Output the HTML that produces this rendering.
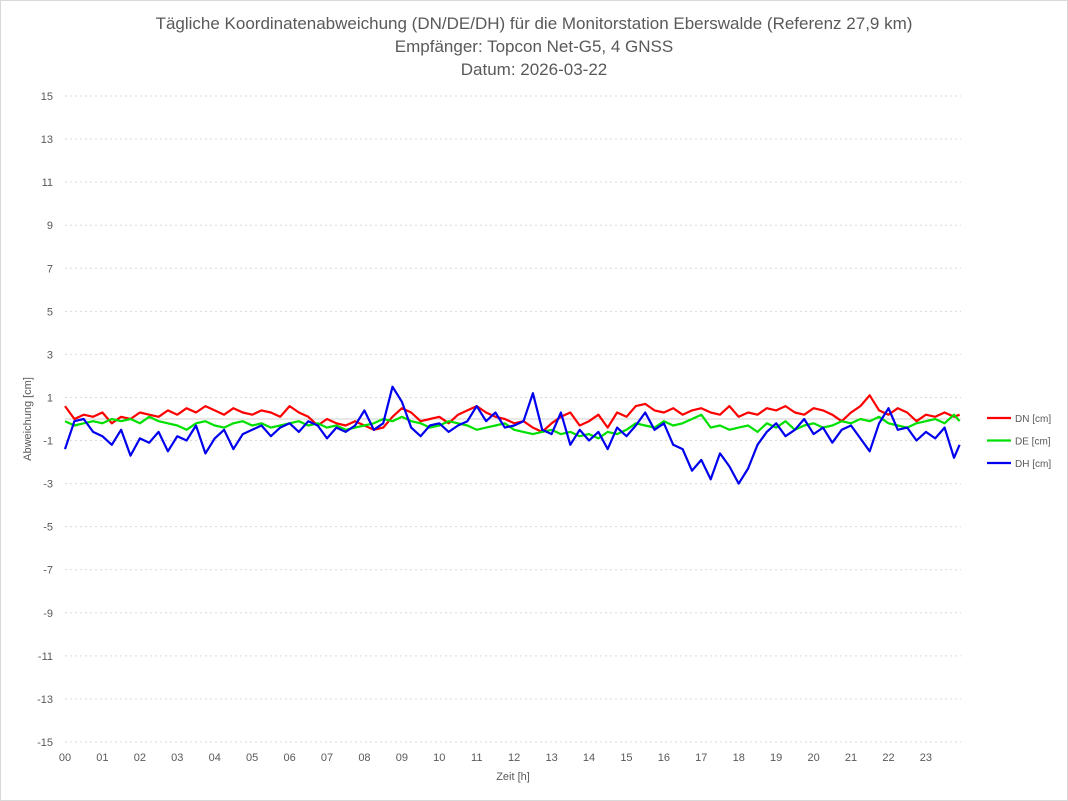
<!DOCTYPE html>
<html><head><meta charset="utf-8"><style>
body{margin:0;background:#fff;font-family:"Liberation Sans",sans-serif}
#wrap{position:relative;width:1066px;height:799px;border:1px solid #d9d9d9;background:#fff}
svg{position:absolute;left:0;top:0}
</style></head><body>
<div id="wrap">
<svg id="chart" width="1066" height="799"></svg>
</div>
<script>
const hours=["00","01","02","03","04","05","06","07","08","09","10","11","12","13","14","15","16","17","18","19","20","21","22","23"];
const yTicks=[15,13,11,9,7,5,3,1,-1,-3,-5,-7,-9,-11,-13,-15];
const dh=[-1.4,-0.1,0,-0.6,-0.8,-1.2,-0.5,-1.7,-0.9,-1.1,-0.6,-1.5,-0.8,-1.0,-0.3,-1.6,-0.9,-0.5,-1.4,-0.7,-0.5,-0.3,-0.8,-0.4,-0.2,-0.6,-0.1,-0.3,-0.9,-0.4,-0.6,-0.3,0.4,-0.5,-0.2,1.5,0.8,-0.4,-0.8,-0.3,-0.2,-0.6,-0.3,-0.1,0.6,-0.1,0.3,-0.4,-0.3,-0.1,1.2,-0.5,-0.7,0.3,-1.2,-0.5,-1.0,-0.6,-1.4,-0.4,-0.8,-0.3,0.3,-0.5,-0.2,-1.2,-1.4,-2.4,-1.9,-2.8,-1.6,-2.2,-3.0,-2.3,-1.2,-0.6,-0.2,-0.8,-0.5,0.0,-0.7,-0.4,-1.1,-0.5,-0.3,-0.9,-1.5,-0.2,0.5,-0.5,-0.4,-1.0,-0.6,-0.9,-0.4,-1.8,-1.2];
const dn=[0.6,0.0,0.2,0.1,0.3,-0.2,0.1,0.0,0.3,0.2,0.1,0.4,0.2,0.5,0.3,0.6,0.4,0.2,0.5,0.3,0.2,0.4,0.3,0.1,0.6,0.3,0.1,-0.3,0.0,-0.2,-0.3,-0.1,-0.3,-0.5,-0.4,0.1,0.5,0.3,-0.1,0.0,0.1,-0.2,0.2,0.4,0.6,0.3,0.1,0.0,-0.2,-0.1,-0.4,-0.6,-0.2,0.1,0.3,-0.3,-0.1,0.2,-0.4,0.3,0.1,0.6,0.7,0.4,0.3,0.5,0.2,0.4,0.5,0.3,0.2,0.6,0.1,0.3,0.2,0.5,0.4,0.6,0.3,0.2,0.5,0.4,0.2,-0.1,0.3,0.6,1.1,0.4,0.2,0.5,0.3,-0.1,0.2,0.1,0.3,0.1,0.2];
const de=[-0.1,-0.3,-0.2,-0.1,-0.2,0.0,-0.1,0.0,-0.2,0.1,-0.1,-0.2,-0.3,-0.5,-0.2,-0.1,-0.3,-0.4,-0.2,-0.1,-0.3,-0.2,-0.4,-0.3,-0.2,-0.1,-0.3,-0.2,-0.4,-0.3,-0.5,-0.4,-0.3,-0.2,0.0,-0.1,0.1,-0.1,-0.2,-0.4,-0.3,-0.1,-0.2,-0.3,-0.5,-0.4,-0.3,-0.2,-0.5,-0.6,-0.7,-0.6,-0.5,-0.7,-0.6,-0.8,-0.7,-0.9,-0.6,-0.7,-0.5,-0.2,-0.3,-0.4,-0.1,-0.3,-0.2,0.0,0.2,-0.4,-0.3,-0.5,-0.4,-0.3,-0.6,-0.2,-0.4,-0.1,-0.5,-0.3,-0.2,-0.4,-0.3,-0.1,-0.2,0.0,-0.1,0.1,-0.2,-0.3,-0.4,-0.2,-0.1,0.0,-0.2,0.2,-0.1];
const ns="http://www.w3.org/2000/svg";
const svg=document.getElementById('chart');
const X0=64,HX=37.43,Y0=418,UY=21.53;
const xs=h=>X0+h*HX, ys=v=>Y0-v*UY;
function mk(tag,attrs,txt){const e=document.createElementNS(ns,tag);for(const k in attrs)e.setAttribute(k,attrs[k]);if(txt!==undefined)e.textContent=txt;svg.appendChild(e);return e;}
const titles=["Tägliche Koordinatenabweichung (DN/DE/DH) für die Monitorstation Eberswalde (Referenz 27,9 km)","Empfänger: Topcon Net-G5, 4 GNSS","Datum: 2026-03-22"];
titles.forEach((t,i)=>{const e=mk('text',{x:533,y:28+i*23,'text-anchor':'middle','font-size':17,fill:'#595959'},t);

});
yTicks.forEach(v=>{const y=ys(v);
const g=mk('line',{x1:X0,x2:960,y1:y,y2:y,stroke:'#d9d9d9','stroke-dasharray':'2,3'});


const t=mk('text',{x:52,y:y+4,'text-anchor':'end','font-size':11,fill:'#595959'},v);

});
const z=mk('line',{x1:X0,x2:960,y1:Y0,y2:Y0,stroke:'#d0d0d0'});


hours.forEach((h,i)=>{const t=mk('text',{x:xs(i),y:760,'text-anchor':'middle','font-size':11,fill:'#595959'},h);

});
const xt=mk('text',{x:512,y:779,'text-anchor':'middle','font-size':11,fill:'#595959'},'Zeit [h]');


const yt=mk('text',{x:30,y:418,'text-anchor':'middle','font-size':11,fill:'#595959',transform:'rotate(-90 30 418)'},'Abweichung [cm]');


const series=[[dn,'#ff0000','DN [cm]','dn'],[de,'#00e000','DE [cm]','de'],[dh,'#0000ee','DH [cm]','dh']];
series.forEach(([d,c,lab,n],k)=>{
const pts=d.map((v,i)=>xs(Math.min(i*0.25,23.9)).toFixed(1)+','+ys(v).toFixed(1)).join(' ');
const p=mk('polyline',{points:pts,fill:'none',stroke:c,'stroke-width':2.2,'stroke-linejoin':'round'});


const ly=417+k*22.5;
const l=mk('line',{x1:986,x2:1010,y1:ly,y2:ly,stroke:c,'stroke-width':2.2});


const lt=mk('text',{x:1014,y:ly+4,'font-size':10,fill:'#595959'},lab);

});
</script>
</body></html>
